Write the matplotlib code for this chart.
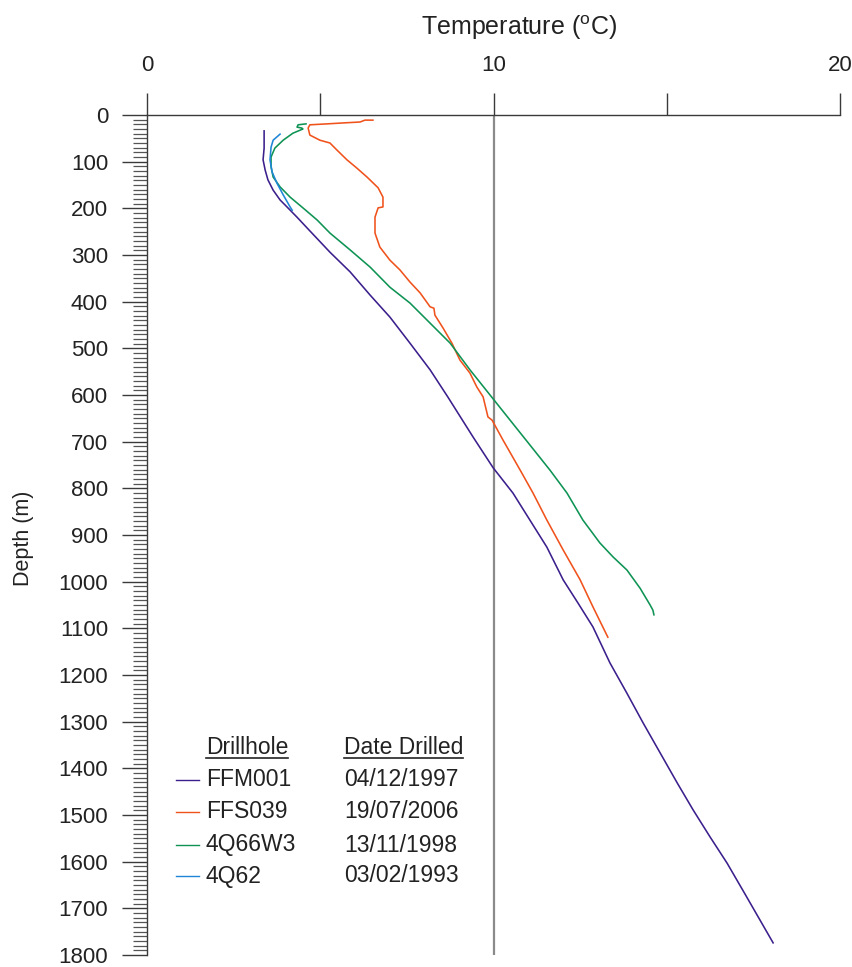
import matplotlib
matplotlib.use("Agg")
import matplotlib.pyplot as plt
from matplotlib.ticker import MultipleLocator

plt.rcParams["font.family"] = ["Liberation Sans", "DejaVu Sans"]
plt.rcParams["mathtext.fontset"] = "custom"
plt.rcParams["mathtext.rm"] = "Liberation Sans"

# Temperature logs (degC) against depth (m)
ffm001_temp = [3.38, 3.38, 3.35, 3.41, 3.49, 3.64, 3.84, 4.04, 4.33, 4.62,
               5.28, 5.86, 6.44, 7.01, 7.59, 8.17, 8.68, 9.41, 9.99, 10.56,
               11.05, 11.54, 12.01, 12.44, 12.87, 13.36, 13.85, 14.32, 14.81,
               15.30, 15.76, 16.25, 16.74, 17.24, 17.69, 18.07]
ffm001_depth = [34, 71, 96, 118, 139, 161, 182, 197, 219, 242,
                294, 336, 386, 433, 489, 546, 604, 690, 756, 810,
                868, 926, 996, 1046, 1097, 1174, 1239, 1303, 1367,
                1431, 1489, 1547, 1603, 1667, 1725, 1774]

ffs039_temp = [6.52, 6.29, 6.15, 5.66, 5.20, 4.70, 4.65, 4.70, 4.99, 5.28,
               5.48, 5.77, 6.06, 6.35, 6.67, 6.81, 6.81, 6.67, 6.58, 6.58,
               6.72, 7.01, 7.30, 7.59, 7.88, 8.17, 8.28, 8.31, 8.54, 8.80,
               9.03, 9.32, 9.52, 9.70, 9.84, 9.96, 10.27, 10.77, 11.14, 11.54,
               12.01, 12.50, 12.87, 13.30]
ffs039_depth = [11, 11, 15, 17, 19, 21, 28, 43, 54, 60,
                75, 96, 114, 133, 156, 176, 197, 199, 219, 253,
                283, 311, 332, 358, 381, 411, 414, 429, 456, 489,
                525, 553, 583, 604, 647, 654, 696, 761, 810, 868,
                932, 996, 1054, 1119]

q66w3_temp = [4.59, 4.36, 4.33, 4.47, 4.50, 4.21, 3.93, 3.69, 3.58, 3.58,
              3.64, 3.84, 4.13, 4.50, 4.91, 5.28, 5.86, 6.44, 7.01, 7.59,
              8.17, 8.75, 9.32, 9.90, 10.48, 11.05, 11.63, 12.12, 12.58,
              13.07, 13.45, 13.85, 14.23, 14.52, 14.60, 14.63]
q66w3_depth = [19, 21, 26, 28, 30, 39, 54, 71, 90, 111,
               133, 154, 176, 199, 225, 253, 289, 326, 369, 403,
               446, 489, 546, 600, 654, 707, 761, 810, 868,
               917, 947, 975, 1014, 1050, 1061, 1071]

q62_temp = [3.84, 3.64, 3.58, 3.55, 3.61, 3.75, 3.93, 4.13, 4.19]
q62_depth = [41, 54, 69, 96, 122, 146, 171, 197, 204]

holes = ["FFM001", "FFS039", "4Q66W3", "4Q62"]
dates = ["04/12/1997", "19/07/2006", "13/11/1998", "03/02/1993"]
colors = ["#3b1f8c", "#f0521c", "#0e9354", "#1f86d6"]

W, H = 852, 967
fig = plt.figure(figsize=(W / 100, H / 100), dpi=100)
ax = fig.add_axes([147 / W, 1 - 955 / H, (840 - 147) / W, (955 - 115) / H])

series = [(ffm001_temp, ffm001_depth), (ffs039_temp, ffs039_depth),
          (q66w3_temp, q66w3_depth), (q62_temp, q62_depth)]
ax.axvline(10, color="#8a8a8a", lw=1.6, zorder=1)
for (t, d), c in zip(series, colors):
    ax.plot(t, d, color=c, lw=1.15, zorder=3)

ax.set_xlim(0, 20)
ax.set_ylim(1800, 0)

for s in ["right", "bottom"]:
    ax.spines[s].set_visible(False)
for s in ["top", "left"]:
    ax.spines[s].set_color("#3a3a3a")
    ax.spines[s].set_linewidth(1.0)

ax.xaxis.tick_top()
ax.set_xticks([0, 5, 10, 15, 20])
ax.set_xticklabels(["0", "", "10", "", "20"])
ax.tick_params(axis="x", which="major", direction="out", length=16,
               width=1.0, color="#3a3a3a", labelsize=16, pad=12,
               labelcolor="#222222")

ax.yaxis.set_major_locator(MultipleLocator(100))
ax.yaxis.set_minor_locator(MultipleLocator(10))
ax.tick_params(axis="y", which="major", direction="out", length=18,
               width=1.0, color="#3a3a3a", labelsize=16, pad=10,
               labelcolor="#222222")
ax.tick_params(axis="y", which="minor", direction="out", length=10,
               width=0.9, color="#555555")

fig.text(519 / W, 1 - 28 / H, "Temperature ($^{\\mathrm{o}}$C)", ha="center",
         va="center", fontsize=18, color="#222222")
fig.text(23 / W, 1 - 538 / H, "Depth (m)", ha="center", va="center",
         rotation=90, fontsize=15.5, color="#222222")

# Two-column key: drillhole name and drilling date
fig.canvas.draw()
renderer = fig.canvas.get_renderer()
KEY_FS = 16.5


def underlined(x, y, s):
    t = fig.text(x / W, 1 - y / H, s, ha="left", va="center", fontsize=KEY_FS,
                 color="#222222")
    bb = t.get_window_extent(renderer)
    yl = bb.y0 + 1
    fig.add_artist(plt.Line2D([bb.x0 / W, bb.x1 / W], [yl / H, yl / H],
                              color="#222222", lw=1.2))


underlined(206, 747, "Drillhole")
underlined(344, 747, "Date Drilled")
row_y = [780, 812, 845, 876]
for name, date, c, y in zip(holes, dates, colors, row_y):
    fig.add_artist(plt.Line2D([176 / W, 199 / W], [1 - y / H, 1 - y / H],
                              color=c, lw=1.0))
    fig.text(206 / W, 1 - y / H, name, ha="left", va="center", fontsize=KEY_FS,
             color="#222222")
    fig.text(344 / W, 1 - y / H, date, ha="left", va="center", fontsize=KEY_FS,
             color="#222222")

fig.savefig("out.png", dpi=100)
